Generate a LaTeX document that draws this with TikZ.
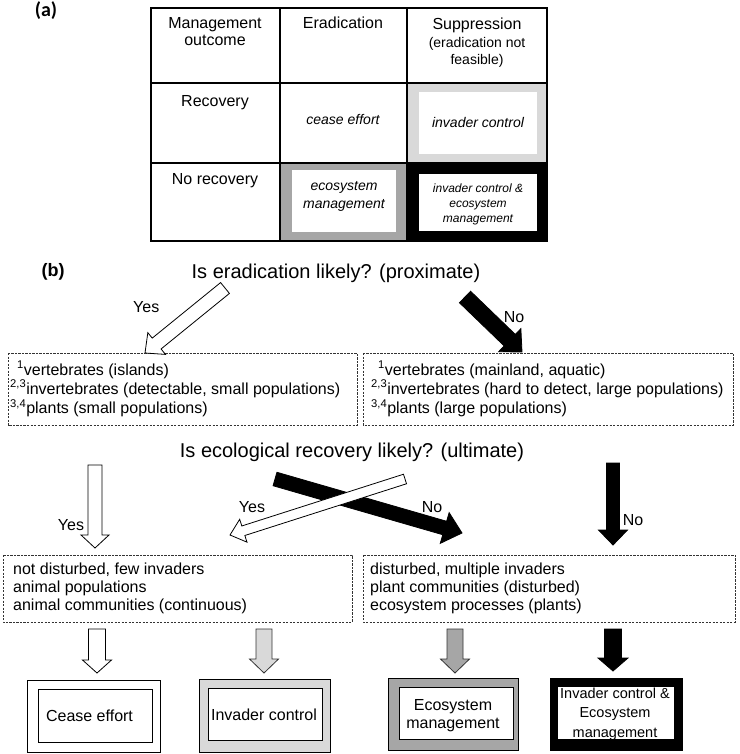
\documentclass[tikz,border=0pt]{standalone}
\usepackage{fontspec}
\setmainfont{Liberation Sans}
\newfontfamily\calibri{Carlito}
\usetikzlibrary{calc}
\definecolor{lgrey}{HTML}{D9D9D9}
\definecolor{mgrey}{HTML}{A6A6A6}
\newcommand\fs[2]{\fontsize{#1}{#2}\selectfont}
\newcommand\stackc[1]{\begin{tabular}[t]{@{}c@{}}#1\end{tabular}}
\newcommand\stackl[1]{\begin{tabular}[t]{@{}l@{}}#1\end{tabular}}
% #1 style, #2 tail, #3 tip, #4 half shaft, #5 half head, #6 head length
\newcommand\blockarrow[6]{%
  \draw[#1] let \p1=($(#3)-(#2)$), \n1={atan2(\y1,\x1)}, \n2={veclen(\x1,\y1)}, \n3={\n2-#6} in
    ($(#2)+({\n1+90}:#4)$) -- ($(#2)+(\n1:\n3)+({\n1+90}:#4)$) -- ($(#2)+(\n1:\n3)+({\n1+90}:#5)$)
    -- (#3) -- ($(#2)+(\n1:\n3)+({\n1-90}:#5)$) -- ($(#2)+(\n1:\n3)+({\n1-90}:#4)$)
    -- ($(#2)+({\n1-90}:#4)$) -- cycle;}
\tikzset{
  txt/.style={inner sep=0pt, anchor=base},
  txtl/.style={inner sep=0pt, anchor=base west},
  gridline/.style={line width=1.3pt, draw=black},
  dbox/.style={draw=black!80, line width=0.8pt, dash pattern=on 2.2pt off 1.3pt},
  obox/.style={draw=black, line width=0.9pt},
  wbar/.style={fill=white, draw=black, line width=0.8pt, line join=miter},
  bbar/.style={fill=black, draw=black, line width=0.8pt, line join=miter},
  lbar/.style={fill=lgrey, draw=black!80, line width=0.8pt, line join=miter},
  mbar/.style={fill=mgrey, draw=black!80, line width=0.8pt, line join=miter},
}
\begin{document}
\begin{tikzpicture}[x=1pt,y=-1pt]
\useasboundingbox (0,0) rectangle (739,754);
% ---------------- (a) table
\node[txt] (la) at (46,17) {\calibri\bfseries\fs{20}{22}(a)};
\fill[lgrey] (407,83) rectangle (547,163);
\fill[white] (419,92) rectangle (537,154);
\fill[mgrey] (280,163) rectangle (407,241);
\fill[white] (292,170) rectangle (396,232);
\fill[black] (407,163) rectangle (547,241);
\fill[white] (419,174) rectangle (537,231);
\draw[gridline] (151,8) rectangle (547,241);
\draw[gridline] (280,8) -- (280,241) (407,8) -- (407,241)
  (151,83) -- (547,83) (151,163) -- (547,163);
\node[txt] (hmo) at (215,28.5) {\fs{16}{17}\stackc{Management\\outcome}};
\node[txt] (her) at (343,29) {\fs{16}{18}Eradication};
\node[txt] (hsu) at (477,30) {\fs{16}{18}Suppression};
\node[txt] (hsu2) at (477,48) {\fs{14}{17}\stackc{(eradication not\\feasible)}};
\node[txt] (rrec) at (215,107) {\fs{16}{18}Recovery};
\node[txt] (rnor) at (215,185) {\fs{16}{18}No recovery};
\node[txt] (cce) at (343,125) {\fs{14}{17}\itshape cease effort};
\node[txt] (cic) at (478,128) {\fs{14}{17}\itshape invader control};
\node[txt] (cem) at (344,190) {\fs{14}{18}\itshape\stackc{ecosystem\\management}};
\node[txt] (cie) at (478,192) {\fs{12}{15}\itshape\stackc{invader control \&\\ecosystem\\management}};
% ---------------- (b) flow
\node[txt] (lb) at (53,276) {\fs{18}{20}\bfseries(b)};
\node[txt] (q1) at (336,278) {\fs{20}{24}Is eradication likely? (proximate)};
\node[txt] (q2) at (352,457) {\fs{20}{24}Is ecological recovery likely? (ultimate)};
% dashed boxes
\draw[dbox] (8,353) rectangle (357,425);
\draw[dbox] (363,353) rectangle (733,425);
\draw[dbox] (3,555) rectangle (352,622);
\draw[dbox] (363,555) rectangle (735,622);
\node[txtl] (t1) at (10,375) {\fs{16}{17}\stackl{\hspace*{7pt}\textsuperscript{1}vertebrates (islands)\\\textsuperscript{2,3}invertebrates (detectable, small populations)\\\textsuperscript{3,4}plants (small populations)}};
\node[txtl] (t2) at (371,375) {\fs{16}{17}\stackl{\hspace*{7pt}\textsuperscript{1}vertebrates (mainland, aquatic)\\\textsuperscript{2,3}invertebrates (hard to detect, large populations)\\\textsuperscript{3,4}plants (large populations)}};
\node[txtl] (t3) at (13,574) {\fs{16}{18}\stackl{not disturbed, few invaders\\animal populations\\animal communities (continuous)}};
\node[txtl] (t4) at (370,574) {\fs{16}{18}\stackl{disturbed, multiple invaders\\plant communities (disturbed)\\ecosystem processes (plants)}};
% arrow end points
\coordinate (a1s) at (225,288); \coordinate (a1e) at (145,353);
\coordinate (a2s) at (465,297); \coordinate (a2e) at (522,352);
\coordinate (a3s) at (95,465);  \coordinate (a3e) at (95,548);
\coordinate (a4s) at (275,479); \coordinate (a4e) at (462,533);
\coordinate (a5s) at (405,479); \coordinate (a5e) at (230,535);
\coordinate (a6s) at (613,463); \coordinate (a6e) at (613,545);
\coordinate (b1s) at (97,629);  \coordinate (b1e) at (97,673);
\coordinate (b2s) at (264,629); \coordinate (b2e) at (264,673);
\coordinate (b3s) at (455,629); \coordinate (b3e) at (455,673);
\coordinate (b4s) at (613,629); \coordinate (b4e) at (613,671);
\blockarrow{wbar}{a1s}{a1e}{7pt}{14pt}{15pt}
\blockarrow{bbar}{a2s}{a2e}{8pt}{16pt}{17pt}
\blockarrow{wbar}{a3s}{a3e}{7pt}{14pt}{13pt}
\blockarrow{bbar}{a4s}{a4e}{7pt}{16pt}{18pt}
\blockarrow{wbar}{a5s}{a5e}{5pt}{12pt}{14pt}
\blockarrow{bbar}{a6s}{a6e}{6.5pt}{14.5pt}{15pt}
\blockarrow{wbar}{b1s}{b1e}{8.5pt}{14.5pt}{13pt}
\blockarrow{lbar}{b2s}{b2e}{8pt}{14.5pt}{14pt}
\blockarrow{mbar}{b3s}{b3e}{8pt}{14.5pt}{14pt}
\blockarrow{bbar}{b4s}{b4e}{8.5pt}{15pt}{13pt}
% labels
\node[txtl] (l1) at (133,312) {\fs{16}{18}Yes};
\node[txt] (l2) at (514,322) {\fs{16}{18}No};
\node[txt] (l3) at (71,530) {\fs{16}{18}Yes};
\node[txt] (l4) at (252,512) {\fs{16}{18}Yes};
\node[txt] (l5) at (432,512) {\fs{16}{18}No};
\node[txt] (l6) at (633,525) {\fs{16}{18}No};
% result boxes
\draw[obox, fill=white] (27,680) rectangle (160,752);
\draw[obox] (38,689) rectangle (152,742);
\node[txt] (r1) at (89.5,721) {\fs{16}{18}Cease effort};
\draw[obox, fill=lgrey] (199,679) rectangle (330,752);
\draw[obox, fill=white] (208,688) rectangle (322,740);
\node[txt] (r2) at (264,720) {\fs{16}{18}Invader control};
\draw[obox, fill=mgrey] (388,678) rectangle (518,750);
\draw[obox, fill=white] (399,687) rectangle (513,739);
\node[txt] (r3) at (453,710) {\fs{16}{18}\stackc{Ecosystem\\management}};
\draw[obox, fill=black] (550,678) rectangle (682,750);
\fill[white] (558,687) rectangle (674,739);
\node[txt] (r4) at (615,698) {\fs{14.5}{19.5}\stackc{Invader control \&\\Ecosystem\\management}};
\end{tikzpicture}
\end{document}
